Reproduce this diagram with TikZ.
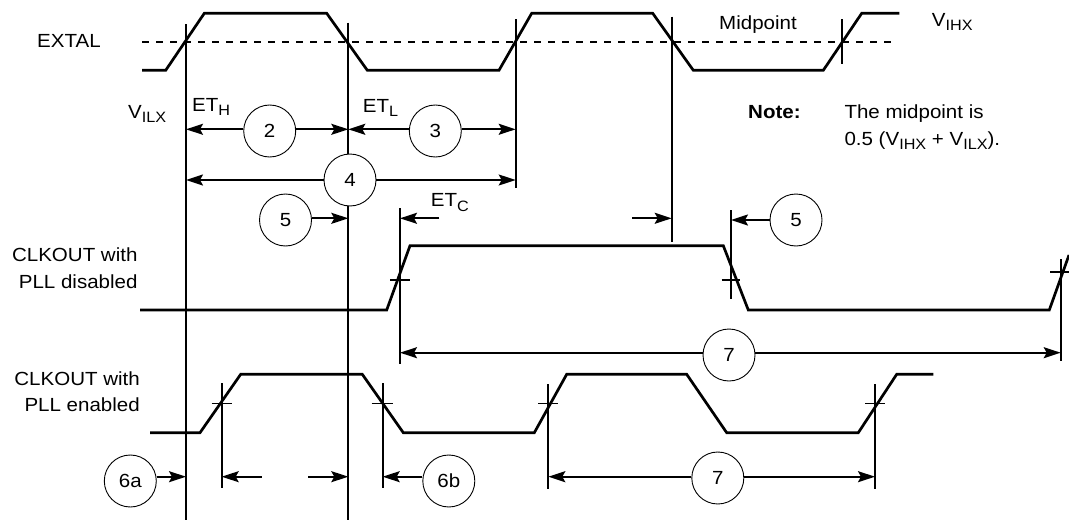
\documentclass[tikz,border=0pt]{standalone}
\usepackage{fontspec}
\setmainfont{Liberation Sans}[FakeStretch=1.08]
\usetikzlibrary{arrows.meta}
\newcommand\lowsub[1]{\raisebox{-4.5pt}{\fontsize{15}{15}\selectfont #1}}
\begin{document}
\begin{tikzpicture}[x=1pt,y=-1pt,
  wave/.style={line width=2.7pt, line join=miter},
  vline/.style={line width=2pt},
  tickl/.style={line width=1.6pt},
  arr/.style={line width=1.9pt,-{Stealth[length=17pt,width=11pt,inset=3pt]}},
  num/.style={circle, draw, line width=0.9pt, fill=white, minimum size=52pt, inner sep=0pt, font=\fontsize{19}{19}\selectfont},
  lbl/.style={inner sep=0pt, anchor=base west, font=\fontsize{19}{22}\selectfont},
  rlbl/.style={inner sep=0pt, anchor=base east, font=\fontsize{19}{22}\selectfont}]
\useasboundingbox (0,0) rectangle (1069,522);

% ---- texts
\node[lbl] (extal) at (37,47) {EXTAL};
\node[lbl] (vilx) at (128,118) {V\lowsub{ILX}};
\node[lbl] (eth) at (192,111) {ET\lowsub{H}};
\node[lbl] (etl) at (362.7,112) {ET\lowsub{L}};
\node[lbl] (etc) at (430.7,206.7) {ET\lowsub{C}};
\node[lbl] (mid) at (719,29) {Midpoint};
\node[lbl] (vihx) at (931.7,26) {V\lowsub{IHX}};
\node[lbl,font=\bfseries\fontsize{19}{22}\selectfont] (note) at (748,118.3) {Note:};
\node[lbl] (n1) at (844.3,118.3) {The midpoint is};
\node[lbl] (n2) at (844.3,145) {0.5 (V\lowsub{IHX} + V\lowsub{ILX}).};
\node[rlbl] (d1) at (137.7,261.7) {CLKOUT with};
\node[rlbl] (d2) at (137.7,288.3) {PLL disabled};
\node[rlbl] (e1) at (140,385) {CLKOUT with};
\node[rlbl] (e2) at (140,411.7) {PLL enabled};

% ---- EXTAL waveform and midpoint line
\draw[line width=2pt, dash pattern=on 7pt off 7pt] (142,41.7) -- (895,41.7);
\draw[wave] (142,70.3) -- (165.7,70.3) -- (204.3,13.3) -- (326.7,13.3) -- (367.3,70.3)
  -- (499,70.3) -- (531.7,13.3) -- (652.7,13.3) -- (693.3,70.3) -- (823.3,70.3)
  -- (861.7,13.3) -- (899.3,13.3);

% ---- CLKOUT, PLL disabled
\draw[wave] (140,310) -- (386.7,310) -- (410,245.7) -- (723.3,245.7) -- (748.3,310)
  -- (1049.3,310) -- (1069,255);
\draw[tickl] (390,280) -- (410,280);
\draw[tickl] (721.7,280) -- (740,280);
\draw[tickl] (1050,272) -- (1069,272);

% ---- CLKOUT, PLL enabled
\draw[wave] (150,432.7) -- (200,432.7) -- (240.7,374.3) -- (362.3,374.3) -- (403.3,432.7)
  -- (534.3,432.7) -- (566.7,374.3) -- (686.7,374.3) -- (726.7,432.7) -- (858.3,432.7)
  -- (896.7,374.3) -- (933.3,374.3);
\draw[tickl] (211.7,403.3) -- (231.7,403.3);
\draw[tickl] (371.7,403.3) -- (392.7,403.3);
\draw[tickl] (538.3,403.3) -- (557.7,403.3);
\draw[tickl] (865,403.3) -- (885,403.3);

% ---- vertical reference lines
\draw[vline] (186,24) -- (186,520);
\draw[vline] (348.3,22.7) -- (348.3,520);
\draw[vline] (515.7,19.3) -- (515.7,188);
\draw[vline] (671.7,16.7) -- (671.7,241.7);
\draw[vline] (841.7,19.3) -- (841.7,64);
\draw[vline] (400,208.3) -- (400,364);
\draw[vline] (731,210) -- (731,299);
\draw[vline] (1060.7,259.3) -- (1060.7,361);
\draw[vline] (221.7,383.3) -- (221.7,487.7);
\draw[vline] (382.7,383.3) -- (382.7,488.3);
\draw[vline] (548.3,384.3) -- (548.3,489.3);
\draw[vline] (875,384) -- (875,489);

% ---- numbered circles
\node[num] (c2) at (269.7,131) {2};
\node[num] (c3) at (435.3,131) {3};
\node[num] (c4) at (350,180) {4};
\node[num] (c5a) at (285.5,220) {5};
\node[num] (c5b) at (796,220) {5};
\node[num] (c7a) at (729,355) {7};
\node[num] (c6a) at (130.3,481) {6a};
\node[num] (c6b) at (448.8,481) {6b};
\node[num] (c7b) at (717.8,478) {7};

% ---- arrow end points
\coordinate (a2l) at (186,129.3);
\coordinate (a2r) at (348.3,129.3);
\coordinate (a3l) at (348.3,129.3);
\coordinate (a3r) at (515.7,129.3);
\coordinate (a4l) at (186,180);
\coordinate (a4r) at (515.7,180);
\coordinate (a5a) at (348.3,218.3);
\coordinate (etcs) at (439.3,218.3);
\coordinate (etce) at (400,218.3);
\coordinate (v4s) at (632.3,218.3);
\coordinate (v4e) at (671.7,218.3);
\coordinate (a5b) at (731,220);
\coordinate (a7al) at (400,352.7);
\coordinate (a7ar) at (1060.7,352.7);
\coordinate (a6a) at (186,476.7);
\coordinate (pls) at (261.7,476.7);
\coordinate (ple) at (221.7,476.7);
\coordinate (prs) at (308.3,476.7);
\coordinate (pre) at (348.3,476.7);
\coordinate (a6b) at (382.7,476.7);
\coordinate (a7bl) at (548.3,476.7);
\coordinate (a7br) at (875,476.7);

% ---- arrows
\draw[arr] (c2.west |- a2l) -- (a2l);
\draw[arr] (c2.east |- a2r) -- (a2r);
\draw[arr] (c3.west |- a3l) -- (a3l);
\draw[arr] (c3.east |- a3r) -- (a3r);
\draw[arr] (c4.west |- a4l) -- (a4l);
\draw[arr] (c4.east |- a4r) -- (a4r);
\draw[arr] (c5a.east |- a5a) -- (a5a);
\draw[arr] (etcs) -- (etce);
\draw[arr] (v4s) -- (v4e);
\draw[arr] (c5b.west |- a5b) -- (a5b);
\draw[arr] (c7a.west |- a7al) -- (a7al);
\draw[arr] (c7a.east |- a7ar) -- (a7ar);
\draw[arr] (c6a.east |- a6a) -- (a6a);
\draw[arr] (pls) -- (ple);
\draw[arr] (prs) -- (pre);
\draw[arr] (c6b.west |- a6b) -- (a6b);
\draw[arr] (c7b.west |- a7bl) -- (a7bl);
\draw[arr] (c7b.east |- a7br) -- (a7br);
\end{tikzpicture}
\end{document}
